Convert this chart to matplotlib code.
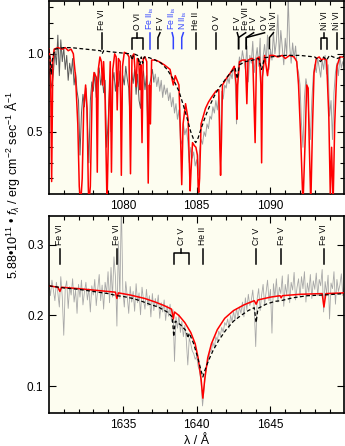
import numpy as np
import matplotlib
matplotlib.use("Agg")
import matplotlib.pyplot as plt
import matplotlib.transforms as mtransforms

plt.rcParams['font.family'] = ['Liberation Sans', 'DejaVu Sans']
plt.rcParams['mathtext.fontset'] = 'custom'
plt.rcParams['mathtext.rm'] = 'Liberation Sans'
plt.rcParams['mathtext.it'] = 'Liberation Sans:italic'

# ---------------- top panel data (1075-1095 A) ----------------
obs_top_wl = np.linspace(1075.0, 1095.0, 201)
obs_top = [
    0.90, 0.84, 0.78, 0.88, 1.02, 0.93, 1.12, 0.86, 1.09, 0.95,
    1.04, 0.90, 0.99, 0.83, 0.94, 0.87, 0.97, 0.80, 0.88, 0.76,
    0.70, 0.35, 0.62, 0.74, 0.66, 0.78, 0.55, 0.30, 0.70, 0.82,
    0.76, 0.88, 0.72, 0.84, 0.91, 0.80, 0.86, 0.75, 0.83, 0.40,
    0.55, 0.78, 0.50, 0.82, 0.88, 0.76, 0.85, 0.79, 0.89, 0.52,
    0.86, 0.80, 0.92, 0.84, 0.78, 0.55, 0.88, 0.81, 0.90, 0.74,
    0.87, 0.70, 0.65, 0.83, 0.89, 0.77, 0.86, 0.48, 0.80, 0.84,
    0.90, 0.82, 0.87, 0.79, 0.85, 0.76, 0.83, 0.72, 0.80, 0.74,
    0.78, 0.70, 0.75, 0.66, 0.72, 0.62, 0.68, 0.58, 0.64, 0.45,
    0.42, 0.55, 0.48, 0.52, 0.44, 0.30, 0.40, 0.33, 0.37, 0.28,
    0.32, 0.22, 0.38, 0.45, 0.42, 0.50, 0.47, 0.55, 0.52, 0.60,
    0.58, 0.66, 0.62, 0.70, 0.64, 0.73, 0.38, 0.76, 0.71, 0.80,
    0.78, 0.85, 0.81, 0.88, 0.84, 0.92, 0.86, 0.55, 0.90, 0.98,
    0.93, 1.02, 0.96, 0.90, 1.05, 0.82, 0.99, 0.94, 1.08, 0.88,
    0.97, 1.04, 0.92, 1.10, 0.62, 0.98, 1.06, 0.95, 1.12, 0.90,
    1.03, 0.96, 1.14, 1.00, 1.08, 1.25, 0.98, 1.15, 1.04, 0.93,
    1.10, 0.99, 1.36, 1.05, 0.94, 1.07, 0.97, 1.05, 0.92, 0.88,
    0.80, 0.55, 0.40, 0.72, 0.84, 0.78, 0.60, 0.45, 0.70, 0.86,
    0.93, 0.88, 0.97, 0.91, 0.85, 0.96, 0.90, 0.99, 0.87, 0.93,
    0.60, 0.70, 0.45, 0.75, 0.88, 0.94, 0.86, 0.98, 0.91, 0.95,
    0.92,
]

# model without ISM (dashed)
mod_top_wl = [1075.0, 1075.08, 1075.15, 1075.22, 1075.4, 1076.0, 1076.5, 1077.0, 1077.5,
              1078.0, 1078.5, 1078.6, 1078.7, 1079.0, 1079.5, 1080.0, 1080.5, 1080.63,
              1080.75, 1081.0, 1081.15, 1081.25, 1081.34, 1081.45, 1081.8, 1082.2, 1082.6,
              1083.0, 1083.4, 1083.8, 1084.1, 1084.4, 1084.6, 1084.8, 1084.94, 1085.1,
              1085.3, 1085.6, 1085.9, 1086.2, 1086.5, 1086.9, 1087.3, 1087.6, 1087.75,
              1087.9, 1088.3, 1088.8, 1089.2, 1089.4, 1089.6, 1090.0, 1090.5, 1091.0,
              1091.5, 1092.0, 1092.5, 1093.0, 1093.4, 1093.6, 1093.8, 1094.0, 1094.5, 1095.0]
mod_top = [1.03, 0.95, 0.87, 0.96, 1.03, 1.04, 1.04, 1.035, 1.03,
           1.025, 1.02, 1.00, 1.02, 1.015, 1.01, 1.005, 1.00, 0.96,
           1.00, 0.99, 0.93, 0.98, 0.94, 0.98, 0.975, 0.96, 0.94,
           0.90, 0.84, 0.76, 0.67, 0.57, 0.50, 0.45, 0.43, 0.46,
           0.52, 0.60, 0.67, 0.73, 0.78, 0.83, 0.88, 0.91, 0.84,
           0.93, 0.95, 0.96, 0.97, 0.90, 0.975, 0.98, 0.985, 0.99,
           0.99, 0.99, 0.985, 0.98, 0.95, 0.98, 0.96, 0.99, 0.97, 0.985]

# model with ISM absorption (red)
ism_top_wl = [1075.0, 1075.1, 1075.18, 1075.26, 1075.35, 1075.6, 1075.9, 1076.1, 1076.3,
              1076.5, 1076.65, 1076.8, 1076.95, 1077.05, 1077.14, 1077.25, 1077.35, 1077.48,
              1077.58, 1077.66, 1077.7, 1077.8, 1077.92, 1078.05, 1078.2, 1078.27, 1078.34,
              1078.45, 1078.55, 1078.62, 1078.7, 1078.8, 1078.93, 1079.06, 1079.15, 1079.23,
              1079.32, 1079.45, 1079.55, 1079.62, 1079.7, 1079.82, 1079.9, 1079.98, 1080.1,
              1080.3, 1080.42, 1080.52, 1080.62, 1080.75, 1080.9, 1080.98, 1081.08, 1081.15,
              1081.22, 1081.3, 1081.38, 1081.5, 1081.62, 1081.72, 1081.8, 1081.87, 1081.95,
              1082.2, 1082.45, 1082.8, 1083.2, 1083.42, 1083.55, 1083.8, 1083.9, 1083.99,
              1084.08, 1084.25, 1084.42, 1084.52, 1084.56, 1084.62, 1084.72, 1084.85, 1084.95,
              1085.05, 1085.1, 1085.14, 1085.2, 1085.3, 1085.45, 1085.6, 1085.8, 1086.0,
              1086.3, 1086.5, 1086.57, 1086.62, 1086.68, 1086.75, 1087.0, 1087.3, 1087.55,
              1087.68, 1087.73, 1087.78, 1087.9, 1088.1, 1088.3, 1088.4, 1088.48, 1088.7,
              1088.8, 1088.96, 1089.05, 1089.25, 1089.35, 1089.4, 1089.46, 1089.6, 1089.8,
              1089.95, 1090.2, 1090.5, 1090.8, 1091.0, 1091.3, 1091.6, 1091.78, 1091.9,
              1092.05, 1092.2, 1092.35, 1092.45, 1092.55, 1092.62, 1092.73, 1092.85, 1092.95,
              1093.1, 1093.3, 1093.45, 1093.6, 1093.8, 1093.95, 1094.05, 1094.14, 1094.24,
              1094.35, 1094.5, 1094.7, 1095.0]
ism_top = [1.03, 0.95, 0.18, 0.95, 1.03, 1.04, 1.03, 1.04, 1.02,
           1.03, 1.00, 0.85, 0.55, 0.15, 0.03, 0.20, 0.65, 0.80,
           0.65, 0.15, 0.03, 0.15, 0.75, 0.88, 0.85, 0.24, 0.90,
           0.98, 0.95, 0.80, 0.95, 0.70, 0.03, 0.65, 0.95, 0.24,
           0.90, 1.00, 0.98, 0.64, 0.97, 0.95, 0.22, 0.92, 1.01,
           1.00, 0.98, 0.23, 0.98, 1.00, 0.79, 0.97, 0.96, 0.77,
           0.93, 0.43, 0.97, 0.98, 0.95, 0.17, 0.80, 0.55, 0.96,
           0.96, 0.95, 0.93, 0.90, 0.80, 0.86, 0.80, 0.50, 0.16,
           0.55, 0.68, 0.58, 0.25, 0.12, 0.25, 0.43, 0.41, 0.40,
           0.35, 0.15, 0.11, 0.20, 0.55, 0.60, 0.65, 0.69, 0.72,
           0.76, 0.77, 0.40, 0.22, 0.45, 0.80, 0.84, 0.88, 0.92,
           0.80, 0.58, 0.80, 0.95, 0.96, 0.96, 0.68, 0.96, 0.97,
           0.97, 0.43, 0.97, 0.98, 0.80, 0.30, 0.85, 0.99, 0.86,
           0.99, 0.99, 0.98, 0.99, 0.97, 0.99, 0.98, 0.95, 0.80,
           0.45, 0.03, 0.45, 0.80, 0.78, 0.45, 0.03, 0.55, 0.88,
           0.97, 0.98, 0.96, 0.97, 0.96, 0.60, 0.10, 0.40, 0.03,
           0.55, 0.92, 0.98, 0.98]

# line identifications, top panel
top_id_labels = ["Fe VI", "Fe II$_{\\rm is}$", "F V", "Fe II$_{\\rm is}$", "N II$_{\\rm is}$",
                 "He II", "O V", "F V", "Fe VII", "F V", "O V", "Ni VI", "Ni VI"]
top_id_wl = [1078.56, 1081.87, 1082.38, 1083.42, 1083.99, 1084.94, 1086.33,
             1087.84, 1087.84, 1088.36, 1088.36, 1089.93, 1094.50]
top_id_label_wl = [1078.56, 1081.87, 1082.52, 1083.34, 1084.10, 1084.94, 1086.33,
                   1087.75, 1088.32, 1088.86, 1089.60, 1090.20, 1094.50]
top_id_blue = [False, True, False, True, True, False, False, False, False, False, False, False, False]
top_groups = [("O VI", 1080.63, 1081.34), ("Ni VI", 1093.42, 1093.83)]

# ---------------- bottom panel data (1630-1650 A) ----------------
obs_bot_wl = np.linspace(1630.0, 1650.0, 201)
obs_bot = [
    0.245, 0.228, 0.250, 0.236, 0.221, 0.247, 0.232, 0.212, 0.255, 0.226,
    0.172, 0.238, 0.249, 0.210, 0.241, 0.229, 0.252, 0.219, 0.236, 0.203,
    0.244, 0.226, 0.250, 0.215, 0.233, 0.247, 0.222, 0.238, 0.205, 0.242,
    0.229, 0.251, 0.214, 0.237, 0.258, 0.221, 0.243, 0.209, 0.247, 0.232,
    0.262, 0.218, 0.268, 0.226, 0.283, 0.255, 0.185, 0.305, 0.224, 0.360,
    0.236, 0.212, 0.248, 0.227, 0.203, 0.241, 0.219, 0.234, 0.206, 0.245,
    0.218, 0.232, 0.201, 0.240, 0.222, 0.209, 0.237, 0.214, 0.228, 0.198,
    0.231, 0.207, 0.224, 0.212, 0.229, 0.196, 0.218, 0.205, 0.222, 0.193,
    0.214, 0.199, 0.216, 0.191, 0.208, 0.135, 0.198, 0.182, 0.201, 0.176,
    0.192, 0.170, 0.186, 0.165, 0.130, 0.168, 0.160, 0.150, 0.146, 0.138,
    0.142, 0.128, 0.121, 0.105, 0.072, 0.095, 0.118, 0.130, 0.136, 0.148,
    0.150, 0.162, 0.155, 0.170, 0.164, 0.178, 0.171, 0.183, 0.176, 0.190,
    0.186, 0.195, 0.182, 0.200, 0.191, 0.206, 0.193, 0.210, 0.198, 0.212,
    0.203, 0.219, 0.198, 0.225, 0.208, 0.230, 0.214, 0.221, 0.236, 0.210,
    0.156, 0.224, 0.238, 0.207, 0.229, 0.244, 0.215, 0.232, 0.250, 0.221,
    0.237, 0.175, 0.245, 0.226, 0.252, 0.219, 0.240, 0.231, 0.256, 0.213,
    0.244, 0.229, 0.258, 0.218, 0.247, 0.236, 0.261, 0.222, 0.240, 0.252,
    0.226, 0.255, 0.238, 0.262, 0.219, 0.246, 0.233, 0.258, 0.224, 0.249,
    0.237, 0.260, 0.228, 0.251, 0.242, 0.265, 0.205, 0.248, 0.231, 0.257,
    0.195, 0.246, 0.238, 0.262, 0.216, 0.251, 0.234, 0.243, 0.259, 0.228,
    0.240,
]

mod_bot_wl = [1630.0, 1631.0, 1632.0, 1633.0, 1634.0, 1634.6, 1635.0, 1635.7, 1636.3,
              1636.8, 1637.4, 1638.0, 1638.35, 1638.45, 1638.55, 1638.9, 1639.3, 1639.4,
              1639.5, 1639.8, 1640.1, 1640.3, 1640.42, 1640.55, 1640.8, 1641.1, 1641.5,
              1642.0, 1642.5, 1643.0, 1643.5, 1643.9, 1644.03, 1644.15, 1644.7, 1645.3,
              1645.72, 1646.5, 1647.5, 1648.6, 1650.0]
mod_bot = [0.242, 0.239, 0.237, 0.234, 0.231, 0.228, 0.227, 0.224, 0.220,
           0.216, 0.212, 0.205, 0.198, 0.170, 0.192, 0.187, 0.178, 0.168,
           0.175, 0.160, 0.138, 0.122, 0.113, 0.122, 0.136, 0.150, 0.165,
           0.180, 0.192, 0.200, 0.207, 0.211, 0.190, 0.210, 0.216, 0.220,
           0.221, 0.225, 0.228, 0.229, 0.231]

ism_bot_wl = [1630.0, 1630.6, 1630.74, 1630.85, 1632.0, 1633.0, 1634.0, 1634.5, 1634.6,
              1634.7, 1635.5, 1636.5, 1637.2, 1637.8, 1638.3, 1638.42, 1638.5, 1638.8,
              1639.2, 1639.6, 1639.9, 1640.1, 1640.3, 1640.42, 1640.55, 1640.75, 1641.0,
              1641.4, 1641.9, 1642.5, 1643.2, 1643.9, 1644.03, 1644.15, 1645.0, 1645.65,
              1645.72, 1645.8, 1647.0, 1648.5, 1648.62, 1648.75, 1650.0]
ism_bot = [0.242, 0.240, 0.234, 0.240, 0.238, 0.236, 0.234, 0.233, 0.224,
           0.232, 0.229, 0.224, 0.219, 0.214, 0.209, 0.195, 0.205, 0.200,
           0.190, 0.176, 0.160, 0.140, 0.110, 0.083, 0.110, 0.140, 0.160,
           0.180, 0.196, 0.207, 0.215, 0.221, 0.216, 0.222, 0.226, 0.228,
           0.225, 0.228, 0.230, 0.231, 0.212, 0.231, 0.232]

bot_id_labels = ["Fe VI", "Fe VI", "He II", "Cr V", "Fe V", "Fe VI"]
bot_id_wl = [1630.74, 1634.60, 1640.42, 1644.03, 1645.72, 1648.60]
bot_groups = [("Cr V", 1638.45, 1639.46)]

BLUE = "#3344ff"
RED = "#ff0000"
FACE = "#fdfdf0"
ID_SIZE = 6.2


def style_axes(ax):
    ax.set_facecolor(FACE)
    for s in ax.spines.values():
        s.set_linewidth(1.2)
    ax.tick_params(which="both", direction="in", top=True, right=True,
                   labelsize=8.5, width=0.8, pad=4)
    ax.tick_params(which="major", length=5)
    ax.tick_params(which="minor", length=3)


def draw_id(ax, wl, lwl, label, color, y0, y1, y2, ylab):
    tr = mtransforms.blended_transform_factory(ax.transData, ax.transAxes)
    if abs(lwl - wl) < 0.05:
        ax.plot([wl, wl], [y0, y2], color=color, lw=1.1, transform=tr, clip_on=False, zorder=6)
    else:
        ax.plot([wl, wl, lwl], [y0, y1, y2], color=color, lw=1.1, transform=tr, clip_on=False, zorder=6)
    ax.text(lwl, ylab, label, rotation=90, ha="center", va="bottom", fontsize=ID_SIZE,
            color=color, transform=tr, zorder=6)


def draw_group(ax, label, w1, w2, y0, y1, y2, ylab):
    tr = mtransforms.blended_transform_factory(ax.transData, ax.transAxes)
    mid = 0.5 * (w1 + w2)
    ax.plot([w1, w1, w2, w2], [y0, y1, y1, y0], color="black", lw=1.1, transform=tr, zorder=6)
    ax.plot([mid, mid], [y1, y2], color="black", lw=1.1, transform=tr, zorder=6)
    ax.text(mid, ylab, label, rotation=90, ha="center", va="bottom", fontsize=ID_SIZE,
            color="black", transform=tr, zorder=6)


fig = plt.figure(figsize=(3.45, 4.46), dpi=100)
ax1 = fig.add_axes([0.142, 0.565, 0.856, 0.433])
ax2 = fig.add_axes([0.142, 0.074, 0.856, 0.442])

# top panel
style_axes(ax1)
ax1.plot(obs_top_wl[:72], obs_top[:72], color="#5a5a5a", lw=0.7, zorder=2)
ax1.plot(obs_top_wl[71:], obs_top[71:], color="#a0a0a0", lw=0.7, zorder=2)
ax1.plot(ism_top_wl, ism_top, color=RED, lw=1.1, zorder=3)
ax1.plot(mod_top_wl, mod_top, color="black", lw=0.9, ls=(0, (3, 2)), zorder=4)
ax1.set_xlim(1075, 1095)
ax1.set_ylim(0.1, 1.34)
ax1.set_xticks([1080, 1085, 1090])
ax1.set_xticks(np.arange(1076, 1095, 1), minor=True)
ax1.set_yticks([0.5, 1.0])
ax1.set_yticks(np.arange(0.2, 1.31, 0.1), minor=True)
ax1.set_yticklabels(["0.5", "1.0"])

for wl, lwl, lab, blue in zip(top_id_wl, top_id_label_wl, top_id_labels, top_id_blue):
    draw_id(ax1, wl, lwl, lab, BLUE if blue else "black", 0.753, 0.81, 0.835, 0.85)
for lab, w1, w2 in top_groups:
    draw_group(ax1, lab, w1, w2, 0.753, 0.81, 0.835, 0.85)

# bottom panel
style_axes(ax2)
ax2.plot(obs_bot_wl, obs_bot, color="#a8a8a8", lw=0.6, zorder=2)
ax2.plot(ism_bot_wl, ism_bot, color=RED, lw=1.1, zorder=3)
ax2.plot(mod_bot_wl, mod_bot, color="black", lw=0.9, ls=(0, (3, 2)), zorder=4)
ax2.set_xlim(1630, 1650)
ax2.set_ylim(0.062, 0.341)
ax2.set_xticks([1635, 1640, 1645])
ax2.set_xticks(np.arange(1631, 1650, 1), minor=True)
ax2.set_yticks([0.1, 0.2, 0.3])
ax2.set_yticklabels(["0.1", "0.2", "0.3"])
ax2.set_xlabel("λ / Å", fontsize=9, labelpad=3)

for wl, lab in zip(bot_id_wl, bot_id_labels):
    draw_id(ax2, wl, wl, lab, "black", 0.756, 0.81, 0.832, 0.853)
for lab, w1, w2 in bot_groups:
    draw_group(ax2, lab, w1, w2, 0.756, 0.81, 0.832, 0.853)

fig.text(0.035, 0.585,
         "5.88•10$^{11}$ • $f_{\\lambda}$ / erg cm$^{-2}$ sec$^{-1}$ Å$^{-1}$",
         rotation=90, ha="center", va="center", fontsize=9)

fig.savefig("out.png", dpi=100, facecolor="white")
